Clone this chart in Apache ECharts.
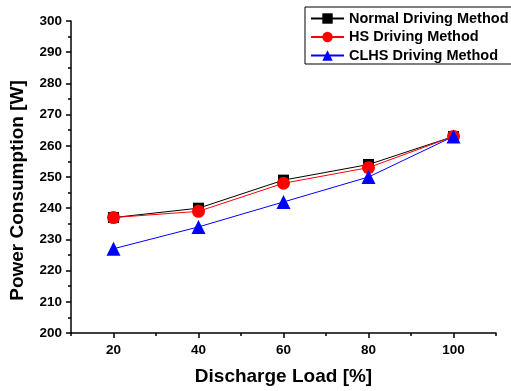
<!DOCTYPE html>
<html>
<head>
<meta charset="utf-8">
<script src="https://cdn.jsdelivr.net/npm/echarts@6/dist/echarts.min.js"></script>
<style>
  html, body { margin: 0; padding: 0; background: #fff; }
  #chart { width: 511px; height: 391px; }
</style>
</head>
<body>
<div id="chart"></div>
<script>
var loads = [20, 40, 60, 80, 100];
var normalPower = [237, 240, 249, 254, 263];
var hsPower = [237, 239, 248, 253, 263];
var clhsPower = [227, 234, 242, 250, 263];
var xMajorTicks = [20, 40, 60, 80, 100];
var xMinorTicks = [10, 30, 50, 70, 90, 110];

function pairs(xs, ys) {
  return xs.map(function (x, i) { return [x, ys[i]]; });
}

var font = 'Liberation Sans, Arial, sans-serif';
var myChart = echarts.init(document.getElementById('chart'));
myChart.setOption({
  animation: false,
  grid: { left: 71, right: 15, top: 21, bottom: 57 },
  legend: {
    orient: 'vertical',
    left: 305,
    top: 7,
    padding: [4, 5, 1, 5],
    itemWidth: 33,
    itemHeight: 13,
    itemGap: 3.5,
    backgroundColor: '#fff',
    borderColor: '#000',
    borderWidth: 1,
    borderRadius: 0,
    textStyle: { fontFamily: font, fontWeight: 'bold', fontSize: 14.5, color: '#000' }
  },
  xAxis: [{
    type: 'value',
    min: 10,
    max: 110,
    name: 'Discharge Load [%]',
    nameLocation: 'middle',
    nameGap: 34,
    nameTextStyle: { fontFamily: font, fontWeight: 'bold', fontSize: 19, color: '#000' },
    axisLine: { lineStyle: { color: '#000', width: 1.5 } },
    axisTick: { customValues: xMajorTicks, length: 5, lineStyle: { color: '#000', width: 1.5 } },
    axisLabel: { customValues: xMajorTicks, margin: 10, fontFamily: font, fontWeight: 'bold', fontSize: 13.5, color: '#000' },
    splitLine: { show: false }
  }, {
    type: 'value',
    min: 10,
    max: 110,
    position: 'bottom',
    axisLine: { show: false },
    axisTick: { customValues: xMinorTicks, length: 3, lineStyle: { color: '#000', width: 1.5 } },
    axisLabel: { show: false },
    splitLine: { show: false }
  }],
  yAxis: {
    type: 'value',
    min: 200,
    max: 300,
    interval: 10,
    name: 'Power Consumption [W]',
    nameLocation: 'middle',
    nameGap: 44,
    nameTextStyle: { fontFamily: font, fontWeight: 'bold', fontSize: 19, color: '#000', padding: [0, 27, 0, 0] },
    axisLine: { show: true, lineStyle: { color: '#000', width: 1.5 } },
    axisTick: { show: true, length: 5, lineStyle: { color: '#000', width: 1.5 } },
    minorTick: { show: true, splitNumber: 2, length: 3, lineStyle: { color: '#000', width: 1.5 } },
    axisLabel: { margin: 9, fontFamily: font, fontWeight: 'bold', fontSize: 13.5, color: '#000' },
    splitLine: { show: false }
  },
  series: [{
    name: 'Normal Driving Method',
    type: 'line',
    data: pairs(loads, normalPower),
    symbol: 'rect',
    symbolSize: 11,
    itemStyle: { color: '#000' },
    lineStyle: { color: '#000', width: 1 }
  }, {
    name: 'HS Driving Method',
    type: 'line',
    data: pairs(loads, hsPower),
    symbol: 'circle',
    symbolSize: 13,
    itemStyle: { color: '#ff0000' },
    lineStyle: { color: '#ff0000', width: 1 }
  }, {
    name: 'CLHS Driving Method',
    type: 'line',
    data: pairs(loads, clhsPower),
    symbol: 'triangle',
    symbolSize: 14,
    itemStyle: { color: '#0000ff' },
    lineStyle: { color: '#0000ff', width: 1 }
  }]
});
</script>
</body>
</html>
